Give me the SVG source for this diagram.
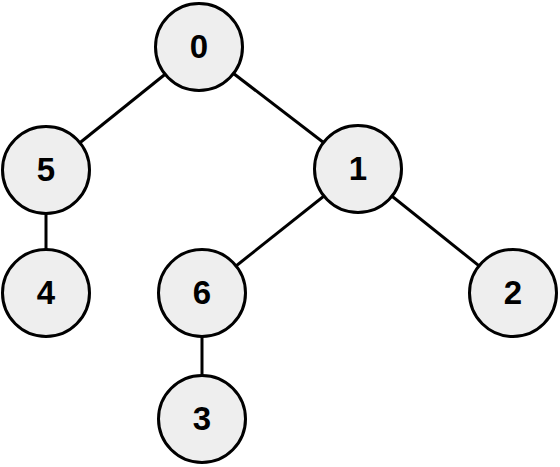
<svg xmlns="http://www.w3.org/2000/svg" width="560" height="467" viewBox="0 0 560 467">
<style>
.edge{stroke:#000;stroke-width:3;fill:none}
.node circle{fill:#eeeeee;stroke:#000;stroke-width:3}
.node text{font-family:"Liberation Sans",Arial,sans-serif;font-weight:bold;font-size:33px;text-anchor:middle;fill:#000}
</style>
<rect width="560" height="467" fill="#fff"/>
<g id="connectors">
<line class="edge" x1="199" y1="47" x2="46" y2="170"/>
<line class="edge" x1="199" y1="47" x2="358" y2="169"/>
<line class="edge" x1="46" y1="170" x2="46" y2="293"/>
<line class="edge" x1="358" y1="169" x2="202" y2="293"/>
<line class="edge" x1="358" y1="169" x2="513" y2="293"/>
<line class="edge" x1="202" y1="293" x2="202" y2="419"/>
</g>
<g id="node0" class="node"><circle cx="199" cy="47" r="43.5"/><text x="199" y="58">0</text></g>
<g id="node5" class="node"><circle cx="46" cy="170" r="43.5"/><text x="46" y="181">5</text></g>
<g id="node1" class="node"><circle cx="358" cy="169" r="43.5"/><text x="358" y="180">1</text></g>
<g id="node4" class="node"><circle cx="46" cy="293" r="43.5"/><text x="46" y="304">4</text></g>
<g id="node6" class="node"><circle cx="202" cy="293" r="43.5"/><text x="202" y="304">6</text></g>
<g id="node2" class="node"><circle cx="513" cy="293" r="43.5"/><text x="513" y="304">2</text></g>
<g id="node3" class="node"><circle cx="202" cy="419" r="43.5"/><text x="202" y="430">3</text></g>
</svg>
